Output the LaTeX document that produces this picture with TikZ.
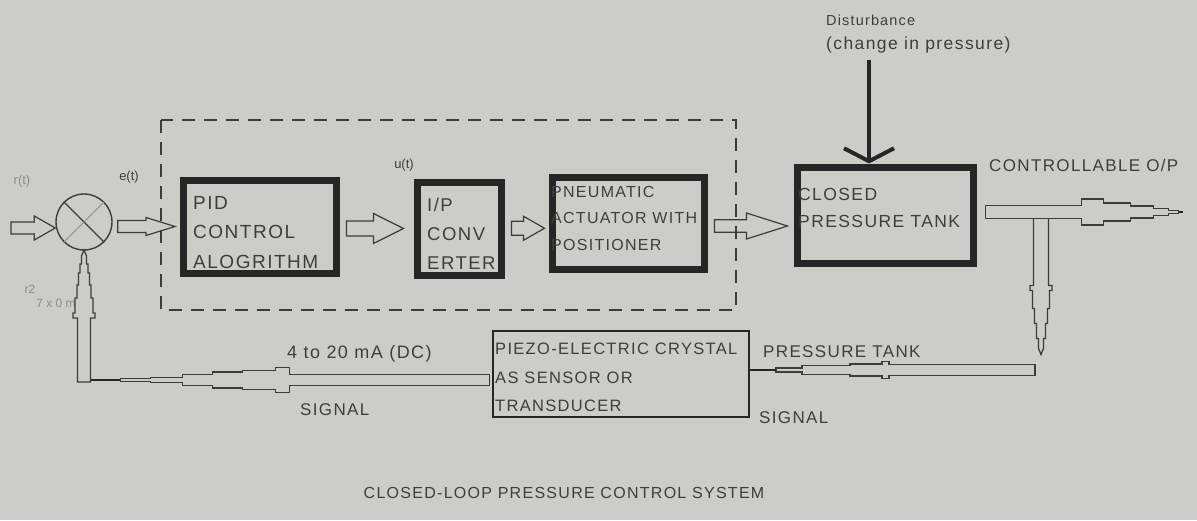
\documentclass[tikz,border=0pt]{standalone}
\usepackage{fontspec}
\setmainfont{Liberation Sans}
\newfontfamily\lblfont[LetterSpace=8]{Liberation Sans}
\usetikzlibrary{arrows.meta,calc}
\definecolor{bgc}{RGB}{204,204,201}
\definecolor{boxc}{RGB}{38,38,38}
\definecolor{linec}{RGB}{60,60,60}
\definecolor{txtc}{RGB}{62,62,62}
\definecolor{faint}{RGB}{140,140,138}
\newcommand\hollowarrow[5]{% from, to, head length, shaft half, head half
  \draw[harrow] let \p1=#1, \p2=#2 in
    (\x1,\y2+#4) -- (\x2-#3,\y2+#4) -- (\x2-#3,\y2+#5) -- (\x2,\y2)
    -- (\x2-#3,\y2-#5) -- (\x2-#3,\y2-#4) -- (\x1,\y2-#4) -- cycle;}
\tikzset{
  heavybox/.style={draw=boxc, line width=7, inner sep=0, fill=none},
  thinbox/.style={draw=boxc, line width=1.6, inner sep=0},
  boxtext/.style={text=txtc, inner sep=0, anchor=north west, align=left},
  lbl/.style={text=txtc, inner sep=0, anchor=west, font=\lblfont\fontsize{16}{20}\selectfont},
  harrow/.style={draw=linec, line width=1.2, line join=miter},
  pipe/.style={draw=linec, line width=1.3, line join=miter},
  solidlink/.style={draw=boxc, line width=2.6},
}
\begin{document}
\begin{tikzpicture}[x=1pt,y=-1pt]
\fill[bgc] (0,0) rectangle (1197,520);
\useasboundingbox (0,0) rectangle (1197,520);

% dashed controller frame
\draw[linec, line width=1.3, dash pattern=on 13pt off 9pt] (161,120) rectangle (736,310);

% summing junction
\node[draw=linec, line width=1.4, circle, minimum size=56, inner sep=0] (sum) at (84,222) {};
\draw[linec, line width=1.2] (sum.north west) -- (sum.south east);
\draw[faint, line width=0.9] (sum.south west) -- (sum.north east);

% blocks
\node[heavybox, minimum width=153, minimum height=93] (pid) at (260,226.5) {};
\node[heavybox, minimum width=84.5, minimum height=93] (ip) at (459.25,228.5) {};
\node[heavybox, minimum width=152.5, minimum height=92.5] (pn) at (628.25,223.25) {};
\node[heavybox, minimum width=176, minimum height=96] (tank) at (885,215) {};
\node[thinbox, minimum width=256, minimum height=86] (sensor) at (621,374) {};

% block texts
\node[boxtext, font=\lblfont\fontsize{19}{29.5}\selectfont] (pidt) at (193,196) {PID\\CONTROL\\ALOGRITHM};
\node[boxtext, font=\lblfont\fontsize{18.5}{29}\selectfont] (ipt) at (427,197.5) {I/P\\CONV\\ERTER};
\node[boxtext, font=\lblfont\fontsize{16}{26.5}\selectfont] (pnt) at (551,186) {PNEUMATIC\\ACTUATOR WITH\\POSITIONER};
\node[boxtext, font=\lblfont\fontsize{17.5}{27}\selectfont] (tankt) at (798,188.5) {CLOSED\\PRESSURE TANK};
\node[boxtext, font=\lblfont\fontsize{16.5}{28.5}\selectfont] (sensort) at (495,343) {PIEZO-ELECTRIC CRYSTAL\\AS SENSOR OR\\TRANSDUCER};

% hollow arrows along the forward path
\coordinate (rin) at (11,0);
\hollowarrow{(rin)}{($(sum.west)+(0,6)$)}{21pt}{6pt}{12pt}
\hollowarrow{($(sum.east)+(5,0)$)}{($(pid.west)+(-5,0)$)}{29pt}{6pt}{9pt}
\hollowarrow{($(pid.east)+(6.5,0)$)}{($(ip.west)+(-10,0)$)}{30pt}{7.5pt}{15pt}
\hollowarrow{($(ip.east)+(6.5,0)$)}{($(pn.west)+(-4,5)$)}{21pt}{7pt}{12pt}
\hollowarrow{($(pn.east)+(6.5,0)$)}{($(tank.west)+(-6,11)$)}{41pt}{6.3pt}{13pt}

% disturbance
\node[lbl, font=\lblfont\fontsize{14.5}{18}\selectfont] (dist1) at (826,20) {Disturbance};
\node[lbl, font=\lblfont\fontsize{17.5}{20}\selectfont] (dist2) at (826,45) {(change in pressure)};
\coordinate (dtop) at (869,60);
\draw[boxc, line width=4, -{Straight Barb[length=13pt, width=50pt]}] (dtop) -- (dtop |- tank.north);

% labels
\node[lbl, font=\lblfont\fontsize{17}{20}\selectfont] (cop) at (989,165) {CONTROLLABLE O/P};
\node[text=faint, inner sep=0, font=\fontsize{13}{15}\selectfont] (rt) at (22,181) {r(t)};
\node[text=txtc, inner sep=0, font=\fontsize{13}{15}\selectfont] (et) at (129,177) {e(t)};
\node[text=txtc, inner sep=0, font=\fontsize{13}{15}\selectfont] (ut) at (404,165) {u(t)};
\node[text=faint, inner sep=0, font=\fontsize{12}{14}\selectfont] (c2) at (30,289) {r2};
\node[text=faint, inner sep=0, font=\fontsize{12}{14}\selectfont] (c3) at (56,303) {7 x 0 m};
\node[lbl, font=\lblfont\fontsize{18}{20}\selectfont] (ma) at (287,354) {4 to 20 mA (DC)};
\node[lbl, font=\lblfont\fontsize{17}{20}\selectfont] (sig1) at (300,410) {SIGNAL};
\node[lbl, font=\lblfont\fontsize{17}{20}\selectfont] (pt) at (763,352) {PRESSURE TANK};
\node[lbl, font=\lblfont\fontsize{17}{20}\selectfont] (sig2) at (759,418) {SIGNAL};
\node[text=txtc, inner sep=0, font=\lblfont\fontsize{16}{20}\selectfont] (cap) at (564,493) {CLOSED-LOOP PRESSURE CONTROL SYSTEM};

% output pipe from the tank
\coordinate (op) at ($(tank.east)+(9,-3)$);
\begin{scope}[shift={(op)}]
\draw[pipe] (0,-6.5) -- (96,-6.5) -- (96,-13) -- (118,-13) -- (118,-9) -- (145,-9) -- (145,-6)
  -- (168,-6) -- (168,-3.5) -- (183,-3.5) -- (183,-1.5) -- (193,-1.5) -- (193,1.5) -- (183,1.5)
  -- (183,3.5) -- (168,3.5) -- (168,6) -- (145,6) -- (145,9) -- (118,9) -- (118,13) -- (96,13)
  -- (96,6.5) -- (0,6.5) -- cycle;
\draw[boxc, line width=2] (193,0) -- (197,0);
\end{scope}

% branch down to the sensor line
\coordinate (br) at ($(op)+(55.5,6.5)$);
\begin{scope}[shift={(br)}]
\draw[pipe] (-7.5,0) -- (-7.5,67) -- (-11,67) -- (-11,72) -- (-8.5,72) -- (-8.5,90) -- (-6.5,90)
  -- (-6.5,105) -- (-4.5,105) -- (-4.5,120) -- (-2.5,120) -- (-2.5,130) -- (0,136)
  -- (2.5,130) -- (2.5,120) -- (4.5,120) -- (4.5,105) -- (6.5,105) -- (6.5,90) -- (8.5,90)
  -- (8.5,72) -- (11,72) -- (11,67) -- (7.5,67) -- (7.5,0);
\end{scope}

% pipe from the tank line to the sensor
\coordinate (bp) at (1035,370);
\begin{scope}[shift={(bp)}]
\draw[pipe] (0,-5.5) -- (-146,-5.5) -- (-146,-8.5) -- (-153,-8.5) -- (-153,-6) -- (-185,-6)
  -- (-185,-4.5) -- (-233,-4.5) -- (-233,-2) -- (-259,-2) -- (-259,2) -- (-233,2) -- (-233,4.5)
  -- (-185,4.5) -- (-185,6) -- (-153,6) -- (-153,8.5) -- (-146,8.5) -- (-146,5.5) -- (0,5.5) -- cycle;
\end{scope}
\draw[solidlink] ($(bp)+(-259,0)$) -- (sensor.east |- bp);

% signal pipe from the sensor back to the summing junction
\coordinate (lp) at ($(sensor.west)+(-3,6)$);
\begin{scope}[shift={(lp)}]
\draw[pipe] (0,-5.3) -- (-200,-5.3) -- (-200,-12.5) -- (-214,-12.5) -- (-214,-9.8) -- (-247,-9.8)
  -- (-247,-8) -- (-277,-8) -- (-277,-5.5) -- (-307,-5.5) -- (-307,-2.8) -- (-339,-2.8)
  -- (-339,-1.5) -- (-369,-1.5) -- (-369,1.5) -- (-339,1.5) -- (-339,2.8) -- (-307,2.8)
  -- (-307,5.5) -- (-277,5.5) -- (-277,8) -- (-247,8) -- (-247,9.8) -- (-214,9.8) -- (-214,12.5)
  -- (-200,12.5) -- (-200,5.3) -- (0,5.3) -- cycle;
\end{scope}
\coordinate (vp) at ($(sum.south |- lp)+(0,2)$);
\draw[solidlink] ($(lp)+(-369,0)$) -- ($(vp)+(6.5,-2)$);
\begin{scope}[shift={(vp)}]
\draw[pipe] (-6.5,0) -- (-6.5,-64) -- (-11,-64) -- (-11,-69) -- (-9,-69) -- (-9,-84) -- (-7,-84)
  -- (-7,-97) -- (-5.5,-97) -- (-5.5,-109) -- (-4,-109) -- (-4,-118) -- (-2.5,-118) -- (-2.5,-126)
  -- (0,-132) -- (2.5,-126) -- (2.5,-118) -- (4,-118) -- (4,-109) -- (5.5,-109) -- (5.5,-97)
  -- (7,-97) -- (7,-84) -- (9,-84) -- (9,-69) -- (11,-69) -- (11,-64) -- (6.5,-64) -- (6.5,0) -- cycle;
\end{scope}
\end{tikzpicture}
\end{document}
